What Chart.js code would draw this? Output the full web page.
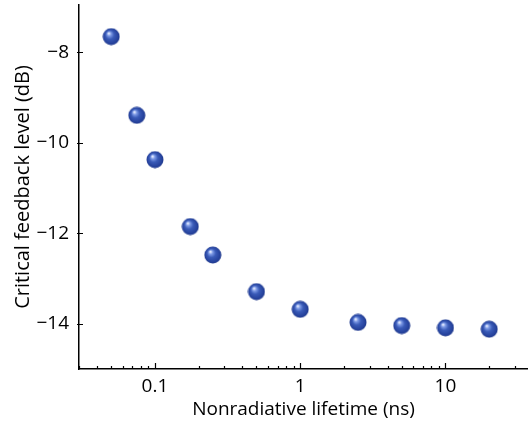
<!DOCTYPE html>
<html>
<head>
<meta charset="utf-8">
<script src="https://cdn.jsdelivr.net/npm/chart.js@4"></script>
<style>
  html, body { margin: 0; padding: 0; background: #fff; }
  #wrap { width: 528px; height: 423px; }
</style>
</head>
<body>
<div id="wrap"><canvas id="chart" width="528" height="423"></canvas></div>
<script>
// Data
const lifetimes = [0.05, 0.075, 0.1, 0.175, 0.25, 0.5, 1, 2.5, 5, 10, 20];
const feedbackLevels = [-7.65, -9.39, -10.37, -11.85, -12.48, -13.29, -13.68, -13.97, -14.04, -14.09, -14.12];

// Tick positions
const xTickValues = [0.03, 0.04, 0.05, 0.06, 0.07, 0.08, 0.09, 0.1,
  0.2, 0.3, 0.4, 0.5, 0.6, 0.7, 0.8, 0.9, 1,
  2, 3, 4, 5, 6, 7, 8, 9, 10, 20, 30];
const xMajorTicks = [0.1, 1, 10];
const yTickValues = [-14, -12, -10, -8];

const FONT = "'Open Sans', 'Noto Sans', sans-serif";

// Shaded blue sphere used as the point marker
function makeSphere(size) {
  const c = document.createElement("canvas");
  c.width = size;
  c.height = size;
  const g = c.getContext("2d");
  const r = size / 2;
  const grad = g.createRadialGradient(r * 0.72, r * 0.62, 0.5, r, r, r);
  grad.addColorStop(0, "#e8eeff");
  grad.addColorStop(0.18, "#7e9be6");
  grad.addColorStop(0.45, "#3a5bb8");
  grad.addColorStop(0.85, "#24409a");
  grad.addColorStop(1, "#1c3482");
  g.fillStyle = grad;
  g.beginPath();
  g.arc(r, r, r - 0.5, 0, Math.PI * 2);
  g.fill();
  return c;
}

// Ticks pointing into the plot area
const innerTicks = {
  id: "innerTicks",
  afterDraw(chart) {
    const ctx = chart.ctx;
    const xs = chart.scales.x;
    const ys = chart.scales.y;
    ctx.save();
    ctx.strokeStyle = "#000";
    ctx.lineWidth = 1.2;
    ctx.beginPath();
    xs.ticks.forEach(function (t) {
      const px = Math.round(xs.getPixelForValue(t.value)) + 0.5;
      const len = xMajorTicks.includes(t.value) ? 6 : 3;
      ctx.moveTo(px, xs.top);
      ctx.lineTo(px, xs.top - len);
    });
    ys.ticks.forEach(function (t) {
      const py = Math.round(ys.getPixelForValue(t.value)) + 0.5;
      ctx.moveTo(ys.right - 2, py);
      ctx.lineTo(ys.right + 4, py);
    });
    ctx.stroke();
    ctx.restore();
  },
};

new Chart(document.getElementById("chart"), {
  type: "scatter",
  data: {
    datasets: [
      {
        data: lifetimes.map((x, i) => ({ x: x, y: feedbackLevels[i] })),
        pointStyle: makeSphere(18),
        pointRadius: 9,
      },
    ],
  },
  options: {
    responsive: false,
    animation: false,
    devicePixelRatio: 1,
    layout: {
      autoPadding: false,
      padding: { top: 5, right: 0, left: 0, bottom: 0 },
    },
    plugins: {
      legend: { display: false },
      tooltip: { enabled: false },
    },
    scales: {
      x: {
        type: "logarithmic",
        min: 0.03,
        max: 37,
        afterBuildTicks: function (scale) {
          scale.ticks = xTickValues.map((v) => ({ value: v }));
        },
        afterFit: function (scale) {
          scale.height = 54;
          scale.paddingLeft = 0;
          scale.paddingRight = 0;
        },
        grid: { drawOnChartArea: false, drawTicks: false },
        border: { display: true, color: "#000", width: 1.5 },
        ticks: {
          autoSkip: false,
          maxRotation: 0,
          padding: 6,
          color: "#000",
          font: { family: FONT, size: 19 },
          callback: function (value) {
            return xMajorTicks.includes(value) ? String(value) : "";
          },
        },
        title: {
          display: true,
          text: "Nonradiative lifetime (ns)",
          color: "#000",
          font: { family: FONT, size: 19 },
          padding: { top: 0, bottom: 2 },
        },
      },
      y: {
        min: -15,
        max: -6.95,
        afterBuildTicks: function (scale) {
          scale.ticks = yTickValues.map((v) => ({ value: v }));
        },
        afterFit: function (scale) {
          scale.width = 79;
          scale.paddingTop = 0;
          scale.paddingBottom = 0;
        },
        grid: { drawOnChartArea: false, drawTicks: false },
        border: { display: true, color: "#000", width: 1.5 },
        ticks: {
          padding: 10,
          color: "#000",
          font: { family: FONT, size: 19 },
          callback: function (value) {
            return "\u2212" + Math.abs(value);
          },
        },
        title: {
          display: true,
          text: "Critical feedback level (dB)",
          color: "#000",
          font: { family: FONT, size: 20 },
          padding: { top: 11, bottom: 0 },
        },
      },
    },
  },
  plugins: [innerTicks],
});
</script>
</body>
</html>
